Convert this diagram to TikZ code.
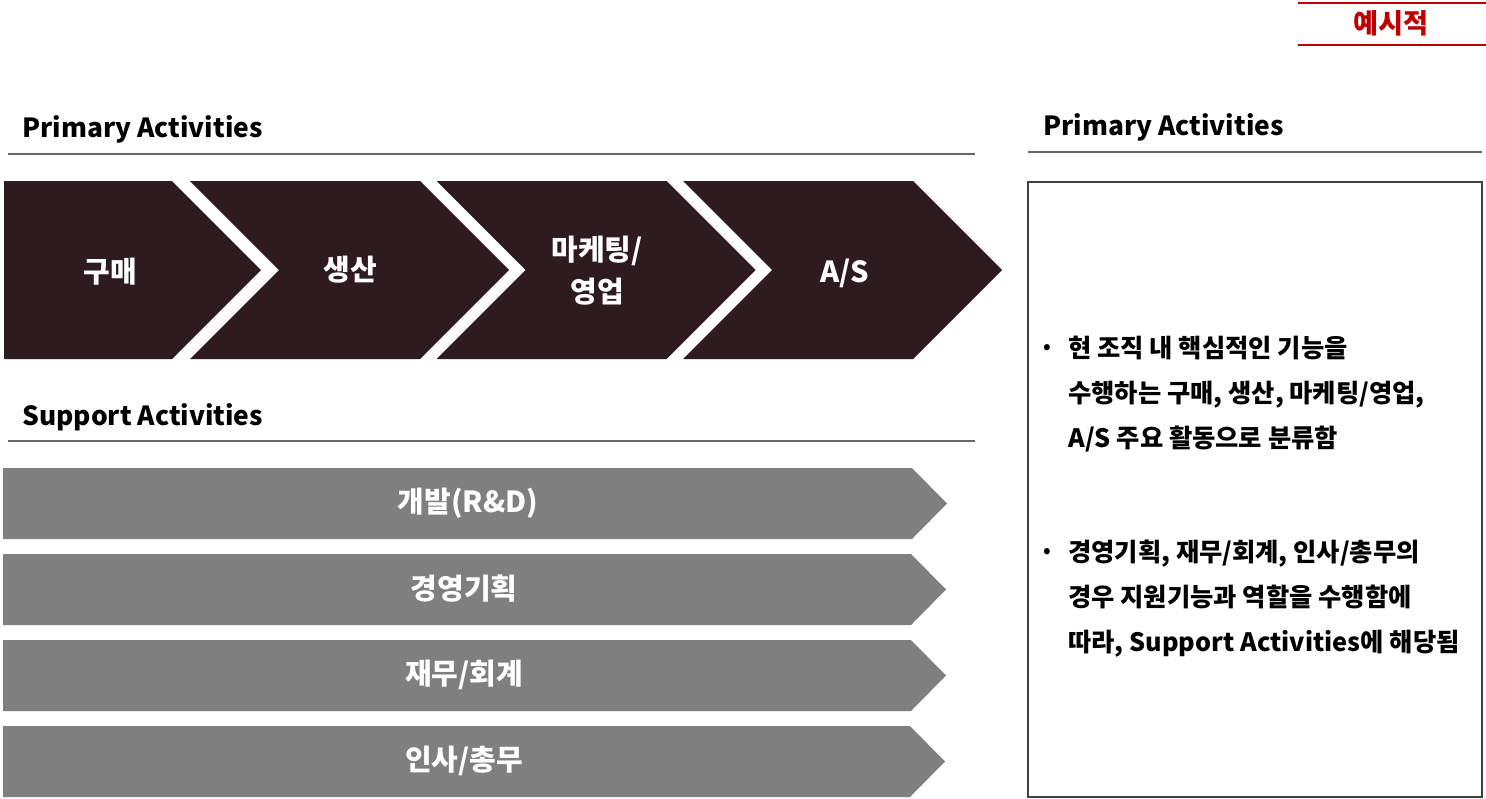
\documentclass[tikz,border=0pt]{standalone}
\usepackage{fontspec}
\setmainfont{Noto Sans CJK KR}
\usepackage{xcolor}
\usetikzlibrary{positioning}
\definecolor{chevdark}{HTML}{2E1B20}
\definecolor{supgray}{HTML}{7F7F7F}
\definecolor{markred}{HTML}{C00000}
\definecolor{rulegray}{HTML}{666666}
\definecolor{boxline}{HTML}{404040}
\tikzset{
  vchev/.style={fill=chevdark},
  vbar/.style={fill=supgray},
  vlabel/.style={text=white,font=\bfseries\fontsize{16.5pt}{24pt}\selectfont,align=center,inner sep=0pt},
  vtitle/.style={anchor=west,font=\bfseries\fontsize{15pt}{17pt}\selectfont,inner sep=0pt},
  vrule/.style={line width=0.9pt,draw=rulegray},
  vnote/.style={anchor=north west,align=left,inner sep=0pt,font=\bfseries\fontsize{14.4pt}{25.5pt}\selectfont},
  vdot/.style={inner sep=0pt,font=\bfseries\fontsize{11pt}{12pt}\selectfont}
}

\begin{document}
\begin{tikzpicture}[x=0.02cm,y=-0.02cm]
  \useasboundingbox (0,0) rectangle (1486,798);
  % tag, top right
  \draw[line width=1.7pt,draw=markred] (1298,3) -- (1486,3);
  \draw[line width=1.7pt,draw=markred] (1298,45) -- (1486,45);
  \node[text=markred,inner sep=0pt,font=\bfseries\fontsize{15.5pt}{18pt}\selectfont] (tag) at (1391,23) {예시적};
  % titles
  \node[vtitle] (ptitle) at (22,129) {Primary Activities};
  \draw[vrule] (8,154) -- (975,154);
  \node[vtitle] (stitle) at (22,417) {Support Activities};
  \draw[vrule] (8,441) -- (975,441);
  \node[vtitle] (rtitle) at (1043,127) {Primary Activities};
  \draw[vrule] (1028,152) -- (1482,152);
  % primary chain
  \fill[vchev] (4,181) -- (172,181) -- (261,270) -- (172,359) -- (4,359) -- cycle;
  \foreach \i in {0,1,2}{
    \pgfmathsetmacro{\x}{190+\i*246.5}
    \fill[vchev] (\x,181) -- (\x+230,181) -- (\x+319,270) -- (\x+230,359)
      -- (\x,359) -- (\x+89,270) -- cycle;
  }
  \node[vlabel] (buy) at (110,272) {구매};
  \node[vlabel] (make) at (350,270) {생산};
  \node[vlabel] (sell) at (597,271) {마케팅/\\영업};
  \node[vlabel] (service) at (845,273) {A/S};
  % support bars
  \foreach \y/\w in {468/947,554/946,640/946,726/945}{
    \fill[vbar] (3,\y) -- (\w-35,\y) -- (\w,\y+35.5) -- (\w-35,\y+71) -- (3,\y+71) -- cycle;
  }
  \node[vlabel] (rnd) at (468,503) {개발(R\&D)};
  \node[vlabel] (plan) at (464,589) {경영기획};
  \node[vlabel] (fin) at (464,675) {재무/회계};
  \node[vlabel] (hr) at (464,761) {인사/총무};
  % note box
  \draw[line width=0.6pt,draw=boxline] (1028,182) rectangle (1482,797);
  \node[vdot] (dot1) at (1047,349) {•};
  \node[vnote] (note1) at (1068,336) {현 조직 내 핵심적인 기능을\\수행하는 구매, 생산, 마케팅/영업,\\A/S 주요 활동으로 분류함};
  \node[vdot] (dot2) at (1047,553) {•};
  \node[vnote] (note2) at (1068,540) {경영기획, 재무/회계, 인사/총무의\\경우 지원기능과 역할을 수행함에\\따라, Support Activities에 해당됨};
\end{tikzpicture}
\end{document}
